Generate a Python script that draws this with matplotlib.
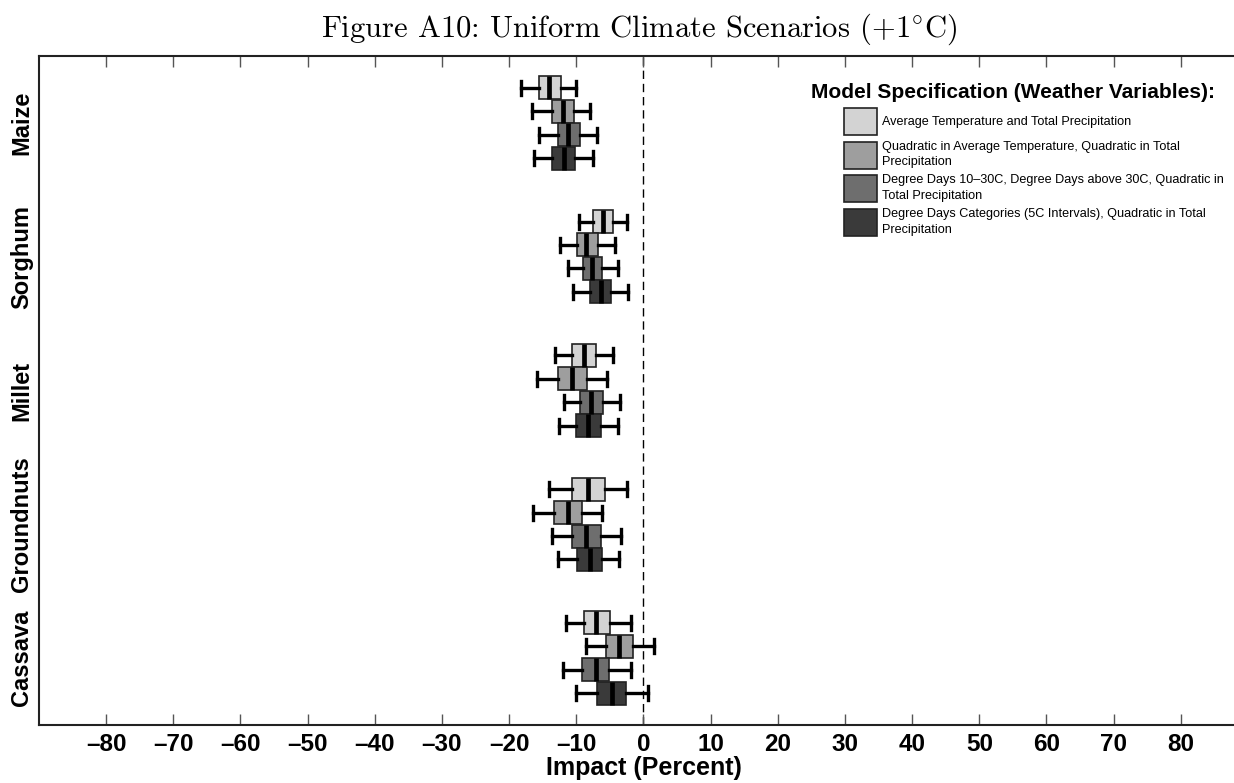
import numpy as np
import matplotlib
matplotlib.use("Agg")
import matplotlib.pyplot as plt
from matplotlib.patches import Patch

plt.rcParams["font.family"] = ["Liberation Sans", "DejaVu Sans"]
plt.rcParams["mathtext.fontset"] = "cm"

crops = ["Maize", "Sorghum", "Millet", "Groundnuts", "Cassava"]
specs = [
    "Average Temperature and Total Precipitation",
    "Quadratic in Average Temperature, Quadratic in Total\nPrecipitation",
    "Degree Days 10\u201330C, Degree Days above 30C, Quadratic in\nTotal Precipitation",
    "Degree Days Categories (5C Intervals), Quadratic in Total\nPrecipitation",
]
colors = ["#d3d3d3", "#9e9e9e", "#6e6e6e", "#3a3a3a"]

# impact in percent, one row per crop, one column per model specification
whislo = [
    [-18.2, -16.6, -15.6, -16.3],
    [-9.6, -12.4, -11.2, -10.5],
    [-13.2, -15.9, -11.9, -12.6],
    [-14.0, -16.4, -13.6, -12.7],
    [-11.5, -8.5, -12.0, -10.0],
]
q1 = [
    [-15.5, -13.6, -12.8, -13.6],
    [-7.5, -9.9, -9.0, -7.9],
    [-10.6, -12.7, -9.5, -10.1],
    [-10.6, -13.3, -10.6, -9.9],
    [-8.8, -5.65, -9.1, -6.9],
]
med = [
    [-14.0, -12.0, -11.2, -11.85],
    [-6.1, -8.5, -7.6, -6.4],
    [-8.8, -10.6, -7.8, -8.2],
    [-8.2, -11.2, -8.6, -8.0],
    [-7.0, -3.7, -7.1, -4.75],
]
q3 = [
    [-12.3, -10.3, -9.5, -10.2],
    [-4.6, -6.7, -6.2, -4.9],
    [-7.0, -8.4, -6.0, -6.3],
    [-5.8, -9.1, -6.4, -6.2],
    [-5.05, -1.5, -5.2, -2.6],
]
whishi = [
    [-10.0, -7.9, -6.9, -7.5],
    [-2.4, -4.3, -3.8, -2.3],
    [-4.6, -5.5, -3.5, -3.8],
    [-2.4, -6.2, -3.4, -3.6],
    [-1.9, 1.6, -1.9, 0.7],
]
xticks = list(range(-80, 81, 10))

row_step = 0.175

fig = plt.figure(figsize=(12.34, 7.83), dpi=100)
ax = fig.add_axes([39 / 1234, 58 / 783, 1209 / 1234, 669 / 783])

ax.axvline(0, color="black", lw=1.0, ls=(0, (6, 3.5)), zorder=1)

for j in range(len(specs)):
    stats = []
    pos = []
    for i in range(len(crops)):
        stats.append(dict(med=med[i][j], q1=q1[i][j], q3=q3[i][j],
                          whislo=whislo[i][j], whishi=whishi[i][j], fliers=[]))
        pos.append(i + (j - 1.5) * row_step)
    ax.bxp(stats, positions=pos, widths=0.172, capwidths=0.105,
           orientation="horizontal", patch_artist=True, manage_ticks=False,
           boxprops=dict(facecolor=colors[j], edgecolor="#222222", lw=1.2),
           medianprops=dict(color="black", lw=3.4, solid_capstyle="butt"),
           whiskerprops=dict(color="black", lw=2.4),
           capprops=dict(color="black", lw=2.4),
           zorder=3)

ax.set_xlim(-90, 90)
ax.set_ylim(4.5, -0.5)
ax.set_xticks(xticks)
ax.set_xticklabels([f"{t:d}".replace("-", "\u2013") for t in xticks],
                   fontsize=17.5, fontweight="bold")
ax.tick_params(axis="x", direction="in", length=8, width=1, color="#555555",
               top=True, bottom=True, pad=6)
ax.set_yticks(range(len(crops)))
ax.set_yticklabels(crops, rotation=90, va="center", fontsize=17,
                   fontweight="bold")
ax.tick_params(axis="y", length=0, pad=4)

for side in ["left", "top", "bottom"]:
    ax.spines[side].set_linewidth(1.5)
    ax.spines[side].set_color("#222222")
ax.spines["right"].set_visible(False)

ax.set_xlabel("Impact (Percent)", fontsize=18, fontweight="bold", labelpad=0)

fig.text(0.518, 0.962, "Figure A10: Uniform Climate Scenarios (+1$^{\\circ}$C)",
         family="cmr10", fontsize=22, ha="center", va="center")

fig.text(811 / 1234, 1 - 93 / 783, "Model Specification (Weather Variables):",
         fontsize=15, fontweight="bold", ha="left", va="center")
handles = [Patch(facecolor=c, edgecolor="#222222", lw=1.2) for c in colors]
leg = fig.legend(handles, specs, loc="upper left",
                 bbox_to_anchor=(844 / 1234, 1 - 108 / 783), frameon=False,
                 fontsize=9.1, handlelength=2.6, handleheight=2.9,
                 handletextpad=0.37, labelspacing=0.45, borderpad=0,
                 borderaxespad=0)
for t in leg.get_texts():
    t.set_linespacing(1.4)

fig.savefig("out.png", dpi=100)
